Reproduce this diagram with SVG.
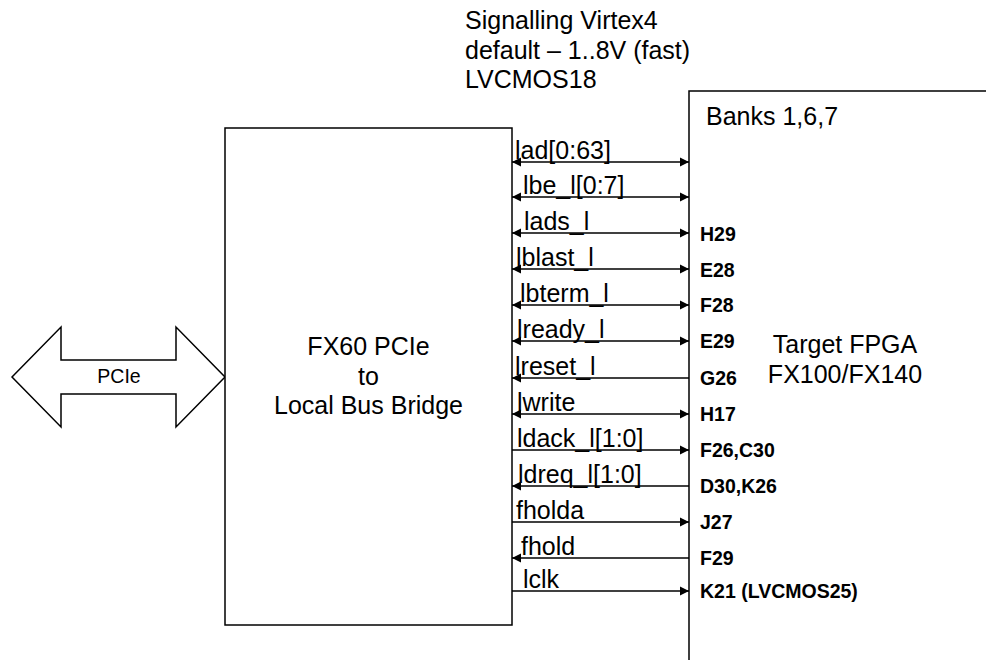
<svg xmlns="http://www.w3.org/2000/svg" width="986" height="660" viewBox="0 0 986 660">
<defs>
<style>
text{font-family:"Liberation Sans",Arial,sans-serif;fill:#000}
.t{font-size:25px}
.s{font-size:25px}
.p{font-size:19.5px;font-weight:bold}
.box{fill:#fff;stroke:#000;stroke-width:1.5}
.w{fill:none;stroke:#000;stroke-width:1.5}
.w.r{marker-end:url(#ah)}
.w.l{marker-start:url(#ah)}
</style>
<marker id="ah" viewBox="0 0 10 10" markerUnits="userSpaceOnUse" markerWidth="9" markerHeight="10" refX="10" refY="5" orient="auto-start-reverse">
<path d="M0,0 L10,5 L0,10 z" fill="#000"/>
</marker>
</defs>
<rect width="986" height="660" fill="#fff"/>

<g id="note">
<text class="t" x="465" y="29">Signalling Virtex4</text>
<text class="t" x="465" y="58.5">default – 1..8V (fast)</text>
<text class="t" x="465" y="88">LVCMOS18</text>
</g>

<g id="pcie">
<polygon class="box" points="12,377 61,327 61,360 176,360 176,327 225,377 176,427 176,394 61,394 61,427"/>
<text x="119" y="383" font-size="19.5" text-anchor="middle">PCIe</text>
</g>

<g id="bridge">
<rect class="box" x="225" y="128" width="287" height="497"/>
<text class="t" x="368.5" y="355" text-anchor="middle">FX60 PCIe</text>
<text class="t" x="368.5" y="385" text-anchor="middle">to</text>
<text class="t" x="368.5" y="414" text-anchor="middle">Local Bus Bridge</text>
</g>

<g id="fpga">
<path class="w" d="M986,91 H689 V660"/>
<text class="t" x="706" y="125">Banks 1,6,7</text>
<text class="t" x="845" y="353" text-anchor="middle">Target FPGA</text>
<text class="t" x="845" y="383" text-anchor="middle">FX100/FX140</text>
</g>

<g id="connectors">
<path class="w l r" d="M512,162 H689"/>
<path class="w l r" d="M512,197 H689"/>
<path class="w l r" d="M512,233 H689"/>
<path class="w l r" d="M512,269 H689"/>
<path class="w l r" d="M512,305 H689"/>
<path class="w l r" d="M512,341 H689"/>
<path class="w l" d="M512,378 H689"/>
<path class="w l r" d="M512,414 H689"/>
<path class="w r" d="M512,450 H689"/>
<path class="w l" d="M512,486 H689"/>
<path class="w r" d="M512,522 H689"/>
<path class="w l" d="M512,558 H689"/>
<path class="w r" d="M512,591 H689"/>
</g>

<g id="signal-labels">
<text class="s" x="515" y="159">lad[0:63]</text>
<text class="s" x="523" y="194">lbe_l[0:7]</text>
<text class="s" x="524" y="230">lads_l</text>
<text class="s" x="516" y="266">lblast_l</text>
<text class="s" x="520" y="302">lbterm_l</text>
<text class="s" x="517" y="338">lready_l</text>
<text class="s" x="515" y="375">lreset_l</text>
<text class="s" x="517" y="411">lwrite</text>
<text class="s" x="517" y="447">ldack_l[1:0]</text>
<text class="s" x="518" y="483">ldreq_l[1:0]</text>
<text class="s" x="516" y="519">fholda</text>
<text class="s" x="521" y="555">fhold</text>
<text class="s" x="523" y="588">lclk</text>
</g>

<g id="pin-labels">
<text class="p" x="700" y="241">H29</text>
<text class="p" x="700" y="277">E28</text>
<text class="p" x="700" y="312">F28</text>
<text class="p" x="700" y="348">E29</text>
<text class="p" x="700" y="385">G26</text>
<text class="p" x="700" y="421">H17</text>
<text class="p" x="700" y="457">F26,C30</text>
<text class="p" x="700" y="493">D30,K26</text>
<text class="p" x="700" y="529">J27</text>
<text class="p" x="700" y="565">F29</text>
<text class="p" x="700" y="598">K21 (LVCMOS25)</text>
</g>
</svg>
